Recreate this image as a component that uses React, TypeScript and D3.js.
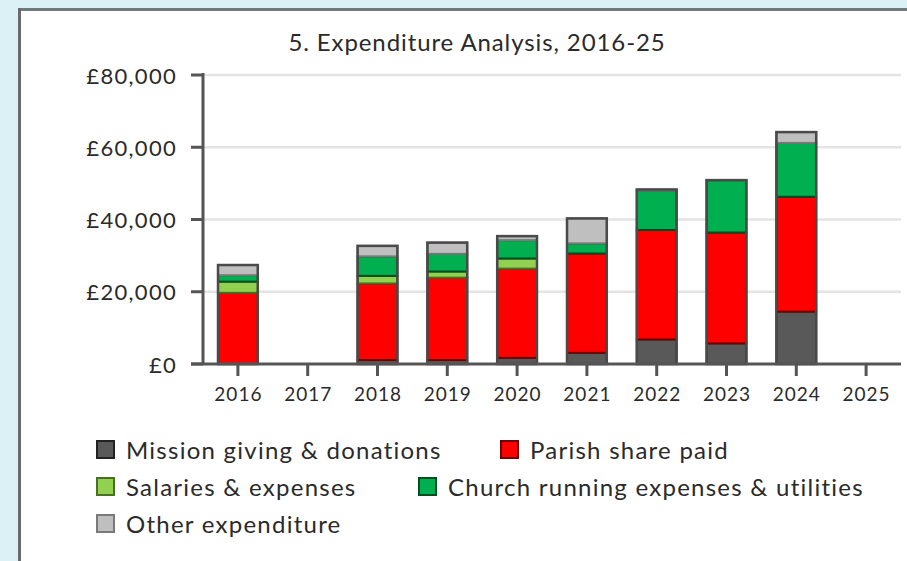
import React from "react";
import * as d3 from "d3";

const years = ["2016", "2017", "2018", "2019", "2020", "2021", "2022", "2023", "2024", "2025"];
const mission = [0, 0, 1100, 1100, 1700, 3100, 6800, 5700, 14500, 0];
const parish = [19700, 0, 21200, 22800, 24700, 27500, 30300, 30700, 31800, 0];
const salaries = [3100, 0, 2100, 1700, 2800, 0, 0, 0, 0, 0];
const church = [1800, 0, 5400, 4900, 5100, 2800, 10900, 14500, 14900, 0];
const other = [2800, 0, 2900, 3100, 1100, 6900, 300, 0, 3000, 0];
const yTicks = [0, 20000, 40000, 60000, 80000];

const seriesNames = [
  "Mission giving & donations",
  "Parish share paid",
  "Salaries & expenses",
  "Church running expenses & utilities",
  "Other expenditure",
];
const seriesValues = [mission, parish, salaries, church, other];
const fills = ["#595959", "#ff0000", "#92d050", "#00b050", "#bfbfbf"];
const strokes = ["#303838", "#6e0000", "#4a6e22", "#004d22", "#7a7a7a"];

export default function App() {
  const W = 907, H = 561;
  const x = d3.scaleBand().domain(years).range([203, 901]).paddingInner(0.43).paddingOuter(0.215);
  const y = d3.scaleLinear().domain([0, 80000]).range([364, 75]);
  const rows = years.map((yr, i) => {
    const r: any = { year: yr };
    seriesNames.forEach((n, k) => (r[n] = seriesValues[k][i]));
    return r;
  });
  const stack = d3.stack().keys(seriesNames)(rows as any);
  const fmt = (v: number) => "£" + d3.format(",")(v);
  const font = "Lato, 'Open Sans', sans-serif";

  const legendItems = [
    { k: 0, x: 96, y: 449 },
    { k: 1, x: 500, y: 449 },
    { k: 2, x: 96, y: 486 },
    { k: 3, x: 418, y: 486 },
    { k: 4, x: 96, y: 523 },
  ];

  return (
    <svg width={W} height={H} style={{ position: "absolute", left: 0, top: 0 }} fontFamily={font}>
      <rect x={0} y={0} width={W} height={H} fill="#dcf1f6" />
      <rect x={18} y={8} width={W - 18} height={H - 8} fill="#ffffff" />
      <line x1={18} x2={W} y1={9.5} y2={9.5} stroke="#6f7a7a" strokeWidth={3} />
      <line x1={19.5} x2={19.5} y1={8} y2={H} stroke="#6a6a6a" strokeWidth={3} />

      <text x={477} y={41} textAnchor="middle" dominantBaseline="central" fontSize={24} letterSpacing={0.9} fill="#2a2a2a">
        5. Expenditure Analysis, 2016-25
      </text>

      {yTicks.filter((t) => t > 0).map((t) => (
        <line key={"g" + t} x1={203} x2={901} y1={y(t)} y2={y(t)} stroke="#e4e4e4" strokeWidth={2.5} />
      ))}

      {stack.map((s, k) =>
        s.map((d, i) => {
          const h = y(d[0]) - y(d[1]);
          if (h <= 0) return null;
          return (
            <rect
              key={k + "-" + i}
              x={x(years[i])!}
              y={y(d[1])}
              width={x.bandwidth()}
              height={h}
              fill={fills[k]}
              stroke={strokes[k]}
              strokeWidth={2}
            />
          );
        })
      )}
      {years.map((yr, i) => {
        const total = seriesValues.reduce((a, v) => a + v[i], 0);
        if (total <= 0) return null;
        return (
          <rect
            key={"o" + yr}
            x={x(yr)!}
            y={y(total)}
            width={x.bandwidth()}
            height={y(0) - y(total)}
            fill="none"
            stroke="#4a4a4a"
            strokeWidth={2.5}
          />
        );
      })}

      <line x1={203} x2={203} y1={y(80000) - 2} y2={y(0)} stroke="#555" strokeWidth={3} />
      <line x1={191} x2={901} y1={y(0)} y2={y(0)} stroke="#555" strokeWidth={3} />
      {yTicks.map((t) => (
        <g key={"yt" + t}>
          <line x1={191} x2={203} y1={y(t)} y2={y(t)} stroke="#555" strokeWidth={3} />
          <text x={177} y={y(t)} textAnchor="end" dominantBaseline="central" fontSize={22} letterSpacing={1.3} fill="#2a2a2a">
            {fmt(t)}
          </text>
        </g>
      ))}
      {years.map((yr) => {
        const cx = x(yr)! + x.bandwidth() / 2;
        return (
          <g key={"xt" + yr}>
            <line x1={cx} x2={cx} y1={y(0)} y2={y(0) + 12} stroke="#555" strokeWidth={3} />
            <text x={cx + 0.5} y={393} textAnchor="middle" dominantBaseline="central" fontSize={19} letterSpacing={1} fill="#2a2a2a">
              {yr}
            </text>
          </g>
        );
      })}

      {legendItems.map((it) => (
        <g key={"l" + it.k}>
          <rect x={it.x + 1} y={it.y - 8} width={17} height={17} fill={fills[it.k]} stroke={it.k === 0 ? "#222" : strokes[it.k]} strokeWidth={2} />
          <text x={it.x + 30} y={it.y} dominantBaseline="central" fontSize={24} letterSpacing={1.25} fill="#2a2a2a">
            {seriesNames[it.k]}
          </text>
        </g>
      ))}
    </svg>
  );
}
